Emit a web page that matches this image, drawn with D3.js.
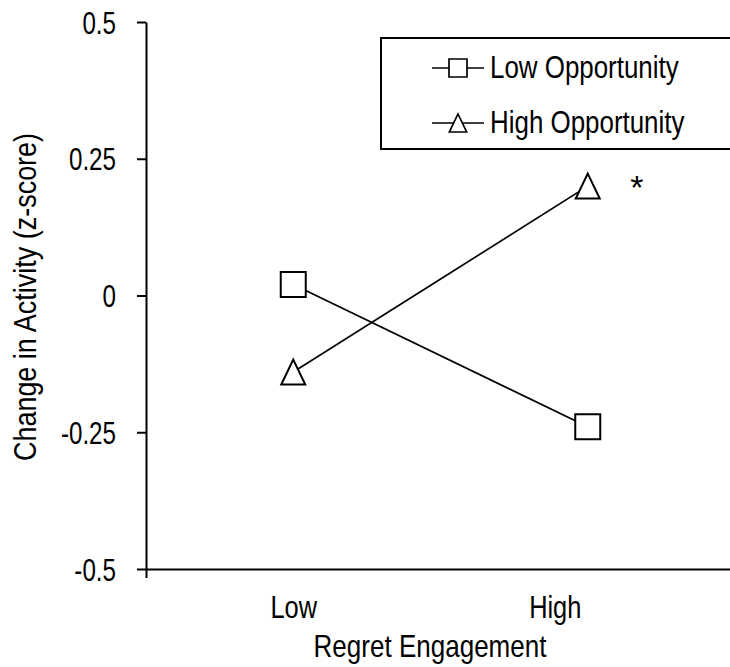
<!DOCTYPE html>
<html>
<head>
<meta charset="utf-8">
<script src="https://cdn.jsdelivr.net/npm/d3@7"></script>
<style>
  html, body { margin: 0; padding: 0; background: #fff; }
  svg { display: block; }
  text { font-family: "Liberation Sans", Arial, sans-serif; fill: #000; }
</style>
</head>
<body>
<svg id="chart" width="730" height="667"></svg>
<script>
// Regret engagement (x) by opportunity level (series)
const levels = ["Low", "High"];
const seriesNames = ["Low Opportunity", "High Opportunity"];
const lowOpportunity = [0.02, -0.24];
const highOpportunity = [-0.14, 0.20];
const yTickValues = [-0.5, -0.25, 0, 0.25, 0.5];
const yTickLabels = ["-0.5", "-0.25", "0", "0.25", "0.5"];
const xTitle = "Regret Engagement";
const yTitle = "Change in Activity (z-score)";
const significance = "*";

const series = [
  { name: seriesNames[0], values: lowOpportunity, shape: "square" },
  { name: seriesNames[1], values: highOpportunity, shape: "triangle" }
];

const svg = d3.select("#chart");
const FONT = 31;

const x = d3.scalePoint().domain(levels).range([146, 735]).padding(0.5);
const y = d3.scaleLinear().domain([-0.5, 0.5]).range([569, 22]);

// marker path generators, centred on (0,0)
function markerPath(shape, s) {
  const h = s / 2;
  if (shape === "square") return `M${-h},${-h}H${h}V${h}H${-h}Z`;
  return `M0,${-h}L${h * 0.96},${h}L${-h * 0.96},${h}Z`;
}

// y axis
const yAxis = d3.axisLeft(y)
  .tickValues(yTickValues)
  .tickSize(9)
  .tickSizeOuter(0)
  .tickFormat((d, i) => yTickLabels[i]);
const gy = svg.append("g").attr("transform", "translate(146,0)").call(yAxis);
gy.select(".domain").attr("stroke", "#000").attr("stroke-width", 2);
gy.selectAll(".tick line").attr("stroke", "#000").attr("stroke-width", 2);
const tickScale = 0.78;
gy.selectAll(".tick text")
  .attr("font-size", FONT)
  .attr("font-family", "Liberation Sans, Arial, sans-serif")
  .attr("transform", `scale(${tickScale},1)`)
  .attr("x", -30 / tickScale)
  .attr("dy", "0.36em");

// x axis: only the end ticks
const xAxis = d3.axisBottom(x).tickSize(0).tickSizeOuter(9).tickPadding(0);
const gx = svg.append("g").attr("transform", "translate(0,569)").call(xAxis);
gx.select(".domain").attr("stroke", "#000").attr("stroke-width", 2);
const xLabelScale = 0.82;
gx.selectAll(".tick text")
  .attr("font-size", FONT)
  .attr("font-family", "Liberation Sans, Arial, sans-serif")
  .attr("transform", `scale(${xLabelScale},1)`)
  .attr("x", (d, i) => (i === 0 ? 0 : -33) / xLabelScale)
  .attr("y", 49)
  .attr("dy", 0);

// axis titles
svg.append("text")
  .attr("transform", "translate(430,657) scale(0.84,1)")
  .attr("text-anchor", "middle")
  .attr("font-size", FONT)
  .text(xTitle);
svg.append("text")
  .attr("transform", "translate(36,297) rotate(-90) scale(0.87,1)")
  .attr("text-anchor", "middle")
  .attr("font-size", FONT)
  .text(yTitle);

// lines
const line = d3.line().x((d, i) => x(levels[i])).y(d => y(d));
svg.selectAll(".series-line")
  .data(series)
  .join("path")
  .attr("class", "series-line")
  .attr("d", d => line(d.values))
  .attr("fill", "none")
  .attr("stroke", "#000")
  .attr("stroke-width", 1.7);

// markers
series.forEach(s => {
  svg.selectAll(null)
    .data(s.values)
    .join("path")
    .attr("transform", (d, i) => `translate(${x(levels[i])},${y(d)})`)
    .attr("d", markerPath(s.shape, 25))
    .attr("fill", "#fff")
    .attr("stroke", "#000")
    .attr("stroke-width", 2);
});

// significance marker next to the high/high point
svg.append("text")
  .attr("x", x("High") + 49)
  .attr("y", y(highOpportunity[1]) + 13)
  .attr("text-anchor", "middle")
  .attr("font-size", 34)
  .text(significance);

// legend
const legend = svg.append("g");
legend.append("rect")
  .attr("x", 381).attr("y", 38)
  .attr("width", 400).attr("height", 111)
  .attr("fill", "#fff")
  .attr("stroke", "#000")
  .attr("stroke-width", 2);
const rows = legend.selectAll(".row")
  .data(series)
  .join("g")
  .attr("class", "row")
  .attr("transform", (d, i) => `translate(0,${68 + i * 55})`);
rows.append("line")
  .attr("x1", 432).attr("x2", 484)
  .attr("stroke", "#000").attr("stroke-width", 1.7);
rows.append("path")
  .attr("transform", "translate(458,0)")
  .attr("d", d => markerPath(d.shape, 18))
  .attr("fill", "#fff")
  .attr("stroke", "#000")
  .attr("stroke-width", 1.7);
rows.append("text")
  .attr("transform", "translate(490,10) scale(0.81,1)")
  .attr("font-size", 32)
  .text(d => d.name);
</script>
</body>
</html>
